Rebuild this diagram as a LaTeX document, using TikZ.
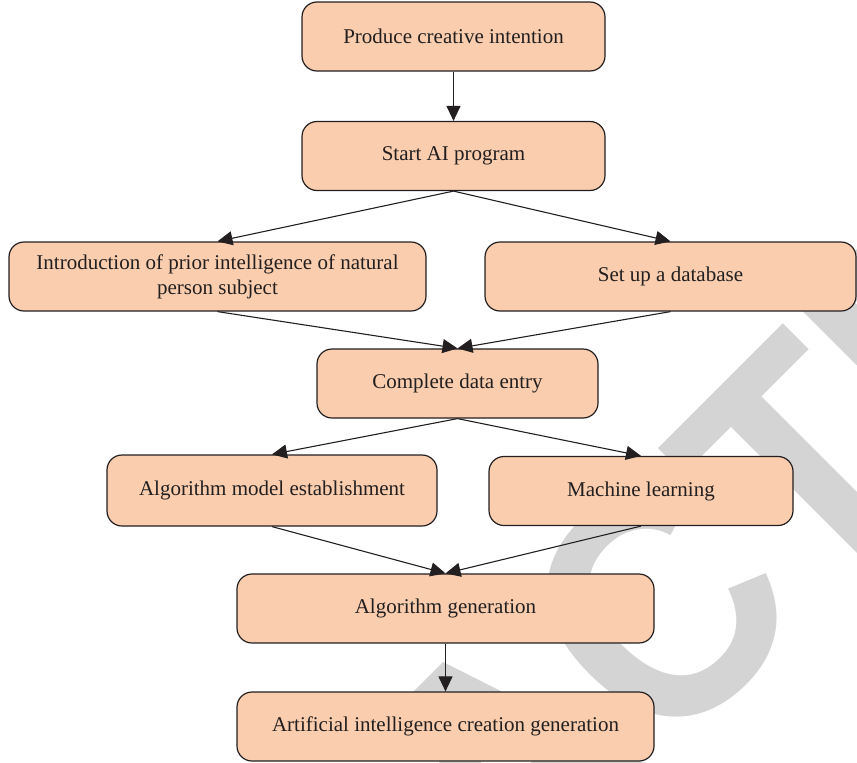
\documentclass[tikz,border=0pt]{standalone}
\usepackage{fontspec}
\setmainfont{Liberation Serif}
\newfontfamily\markfont{Liberation Sans}
\usetikzlibrary{arrows.meta}
\definecolor{boxfill}{HTML}{F9CDAD}
\definecolor{inkdark}{HTML}{231F20}
\definecolor{markgrey}{HTML}{D4D4D4}
\begin{document}
\begin{tikzpicture}[x=1pt,y=-1pt,
  box/.style={draw=inkdark, fill=boxfill, rounded corners=15pt, line width=1.2pt,
    minimum height=69pt, inner sep=0pt, align=center, text=inkdark,
    font=\fontsize{21}{25}\selectfont},
  flow/.style={draw=inkdark, line width=1.1pt, -{Triangle[length=15pt,width=14pt]}}]
\useasboundingbox (0,0) rectangle (857,763);
% diagonal stamp behind the chart
\begin{scope}
  \clip (0,0) rectangle (857,763);
  \node[rotate=45, yscale=1.1, text=markgrey, inner sep=0pt,
        font=\markfont\bfseries\fontsize{300}{300}\selectfont] (mark) at (506,761) {RETRACTED};
\end{scope}
% process boxes
\node[box, minimum width=303pt] (n1) at (453.5,36.5) {Produce creative intention};
\node[box, minimum width=303pt] (n2) at (453.5,156) {Start AI program};
\node[box, minimum width=417pt] (n3) at (217.5,276.5) {Introduction of prior intelligence of natural\\person subject};
\node[box, minimum width=371pt] (n4) at (670.5,276.5) {Set up a database};
\node[box, minimum width=281pt] (n5) at (457.5,383.5) {Complete data entry};
\node[box, minimum width=330pt, minimum height=71pt] (n6) at (272,490.5) {Algorithm model establishment};
\node[box, minimum width=304pt] (n7) at (641,491) {Machine learning};
\node[box, minimum width=417pt] (n8) at (445.5,608.5) {Algorithm generation};
\node[box, minimum width=417pt] (n9) at (445.5,726.5) {Artificial intelligence creation generation};
% connectors
\draw[flow] (n1) -- (n2);
\draw[flow] (n2.south) -- (n3.north);
\draw[flow] (n2.south) -- (n4.north);
\draw[flow] (n3.south) -- (n5.north);
\draw[flow] (n4.south) -- (n5.north);
\draw[flow] (n5.south) -- (n6.north);
\draw[flow] (n5.south) -- (n7.north);
\draw[flow] (n6.south) -- (n8.north);
\draw[flow] (n7.south) -- (n8.north);
\draw[flow] (n8) -- (n9);
\end{tikzpicture}
\end{document}
